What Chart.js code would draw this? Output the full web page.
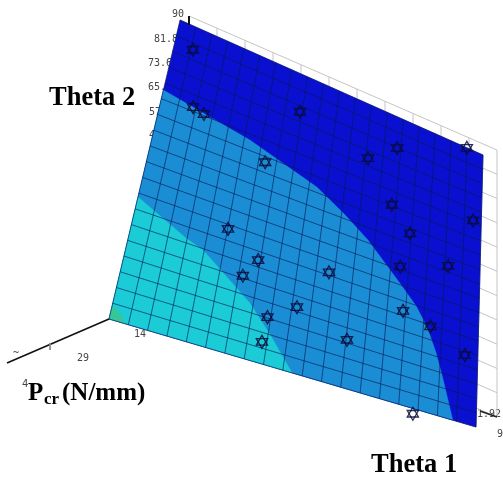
<!DOCTYPE html>
<html><head><meta charset="utf-8">
<style>html,body{margin:0;padding:0;background:#fff}canvas{display:block}</style>
<script src="https://cdn.jsdelivr.net/npm/chart.js@4/dist/chart.umd.min.js"></script>
</head><body><canvas id="c" width="503" height="479"></canvas>
<script>
// design points (Theta 1, Theta 2 in degrees)
const pointsTheta1=[5.3,8.7,11.9,23.8,37.3,30.2,65.3,57.5,85.2,65.2,87.7,70.7,32.6,50.7,68.8,81.4,43.9,70.4,37.1,77.6,36.7,57.1,86.7,74.6,29.5];
const pointsTheta2=[83.4,67.5,66.8,36.6,78.8,59.9,80.3,73.4,90,62.0,67.3,55.2,30.5,34.1,43.6,49.4,20.3,30.0,14.5,28.0,6.6,15.2,22.4,-1.7,24.4];
// contour boundaries of Pcr bands
const upperBandTheta1=[0,25.2,44.7,53.1,59.8,69.1,73.6,76.8,79.4,81.5,84.3];
const upperBandTheta2=[68.9,64.6,58.5,53.3,48.2,38.3,33,27.4,20.1,12.2,0];
const lowerBandTheta1=[0,13.9,18.7,32.3,38.4,44.9];
const lowerBandTheta2=[36.7,29.8,28,17,9.5,0];
const cornerBandTheta1=[0,2.5,4];
const cornerBandTheta2=[4,2.5,0];
const bandColors=['#0a10cf','#1b8dd4','#1bcbd6','#35c79a'];
const theta1Ticks=[0,4.74,9.47,14.21,18.95,23.68,28.42,33.16,37.89,42.63,47.37,52.11,56.84,61.58,66.32,71.05,75.79,80.53,85.26,90];
const theta2Ticks=theta1Ticks;
const wallDivisions=[0,1,2,3,4,5,6,7,8,9,10,11];
const theta2Labels=['90','81.8','73.6','65.5','57.3','49.1'];
const pcrLabels=['14','29','4'];

// projection of the oblique 3D view on the page
function mix(a,b,t){return a+(b-a)*t}
function quad(c,u,v){return {x:mix(mix(c[0][0],c[1][0],u),mix(c[3][0],c[2][0],u),v),
                             y:mix(mix(c[0][1],c[1][1],u),mix(c[3][1],c[2][1],u),v)}}
const surf=[[109,319],[476,427],[483,155],[180,20]];
const wall=[[189,283],[497,417],[497,150],[189,16]];
const P=(t1,t2)=>quad(surf,t1/90,t2/90);
const W=(a,b)=>quad(wall,a/11,b/11);
const zip=(a,b)=>a.map((v,i)=>P(v,b[i]));
const ds=[];
const line=(data,color,width)=>ds.push({data,borderColor:color,borderWidth:width,showLine:true,pointRadius:0,fill:false,tension:0});
const poly=(data,color)=>ds.push({data,backgroundColor:color,borderColor:color,borderWidth:0.5,showLine:true,pointRadius:0,fill:'shape',tension:0});

// wall grid
wallDivisions.forEach(d=>{
  line([W(d,0),W(d,11)],'#c4c4c4',1);
  line([W(0,d),W(11,d)],'#c4c4c4',1);
});
// surface bands
poly([P(0,0),P(90,0),P(90,90),P(0,90)],bandColors[0]);
poly([P(0,0),...zip(upperBandTheta1,upperBandTheta2).reverse(),P(0,0)].reverse(),bandColors[1]);
poly([P(0,0),...zip(lowerBandTheta1,lowerBandTheta2)],bandColors[2]);
poly([P(0,0),...zip(cornerBandTheta1,cornerBandTheta2)],bandColors[3]);
// mesh
theta1Ticks.forEach(t=>line([P(t,0),P(t,90)],'rgba(5,25,85,0.62)',1));
theta2Ticks.forEach(t=>line([P(0,t),P(90,t)],'rgba(5,25,85,0.62)',1));
// axes
line([P(0,0),{x:7,y:363}],'#111',1.6);
line([{x:50,y:343},{x:50,y:350}],'#888',1);
line([W(0,11),{x:189,y:25}],'#111',2);
line([{x:480,y:411},{x:497,y:417}],'#222',1.6);
// design point markers
const pts=zip(pointsTheta1,pointsTheta2);
[0,180].forEach(r=>ds.push({data:pts,pointStyle:'triangle',pointRotation:r,pointRadius:6.5,showLine:false,
  pointBackgroundColor:'rgba(0,0,0,0)',pointBorderColor:'rgba(8,12,60,0.85)',pointBorderWidth:1.3}));
ds.forEach((d,i)=>d.order=ds.length-i);

const labels={id:'labels',
 beforeDatasetsDraw(ch){
  const g=ch.ctx;g.save();g.fillStyle='#444';g.font='10px "DejaVu Sans Mono"';g.textBaseline='middle';g.textAlign='left';
  const ys=[14,39,63,87,112,135],xs=[172,154,148,148,149,149];
  theta2Labels.forEach((s,i)=>g.fillText(s,xs[i],ys[i]));
  g.fillText(pcrLabels[0],134,334);g.fillText(pcrLabels[1],77,358);
  g.fillText('~',13,353);
  g.fillText('1.92',477,414);g.fillText('9',497,434);
  g.restore();
 },
 afterDatasetsDraw(ch){
  const g=ch.ctx;g.save();g.fillStyle='#000';g.textBaseline='alphabetic';g.textAlign='left';
  g.font='bold 26.5px "Liberation Serif"';
  g.fillText('Theta 2',49,105);
  g.fillText('Theta 1',371,472);
  g.font='bold 25px "Liberation Serif"';
  g.fillText('P',28,400);
  g.font='bold 17px "Liberation Serif"';g.fillText('cr',44,404);
  g.font='bold 25px "Liberation Serif"';g.fillText('(N/mm)',62,400);
  g.fillStyle='#444';g.font='10px "DejaVu Sans"';g.fillText(pcrLabels[2],22,387);
  g.restore();
 }};

new Chart(document.getElementById('c'),{type:'scatter',data:{datasets:ds},plugins:[labels],
 options:{responsive:false,animation:false,layout:{padding:0,autoPadding:false},events:[],
  plugins:{legend:{display:false},tooltip:{enabled:false},title:{display:false}},
  scales:{x:{type:'linear',min:0,max:503,display:false},y:{type:'linear',min:0,max:479,reverse:true,display:false}}}});
</script></body></html>
